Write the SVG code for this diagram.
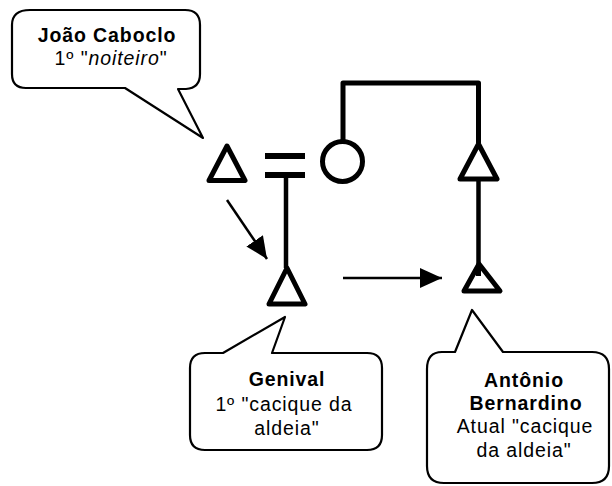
<svg xmlns="http://www.w3.org/2000/svg" width="612" height="486" viewBox="0 0 612 486">
<defs>
<style>
.sym{fill:none;stroke:#000;stroke-width:5;stroke-linejoin:round;stroke-linecap:butt}
.line{fill:none;stroke:#000;stroke-width:4.5}
.arr{fill:none;stroke:#000;stroke-width:2.5}
.callout{fill:#fff;stroke:#000;stroke-width:2.2;stroke-linejoin:round}
text{font-family:"Liberation Sans",Arial,sans-serif;font-size:19.5px;letter-spacing:0.9px;fill:#000;text-anchor:middle}
.b{font-weight:bold}
</style>
<marker id="ah" markerUnits="userSpaceOnUse" markerWidth="24" markerHeight="22" refX="22" refY="10" orient="auto">
<path d="M0,0 L22,10 L0,20 Z" fill="#000"/>
</marker>
</defs>
<rect width="612" height="486" fill="#fff"/>
<g id="connectors">
<polyline class="sym" points="343,141 343,83 478.5,83 478.5,143"/>
<line class="line" x1="286" y1="177" x2="286" y2="268"/>
<line class="line" x1="478.5" y1="178" x2="478.5" y2="274"/>
<line class="arr" x1="227" y1="200" x2="267" y2="259" marker-end="url(#ah)"/>
<line class="arr" x1="343" y1="278" x2="442" y2="278" marker-end="url(#ah)"/>
</g>
<g id="joao">
<polygon class="sym" points="227,146 245,180.5 209,180.5"/>
</g>
<g id="marriage">
<rect x="265" y="153" width="40" height="6"/>
<rect x="265" y="172" width="40" height="6"/>
</g>
<g id="wife">
<circle class="sym" cx="342.5" cy="161.5" r="20"/>
</g>
<g id="brother">
<polygon class="sym" points="478.5,144 497,179 460,179"/>
</g>
<g id="genival">
<polygon class="sym" points="287,268 305,304 269,304"/>
</g>
<g id="antonio">
<polygon class="sym" points="479,264 500,291 464,291"/>
<rect x="476" y="264" width="5" height="12"/>
</g>
<g id="callout-joao">
<path class="callout" d="M30,10 H185 Q200,10 200,25 V74 Q200,88 186,89 H178 L203,138 L125,88 H26 Q12,88 12,74 V25 Q12,10 30,10 Z"/>
<text class="b" x="107" y="42">João Caboclo</text>
<text x="111" y="65">1º "<tspan font-style="italic">noiteiro</tspan>"</text>
</g>
<g id="callout-genival">
<path class="callout" d="M205,353 H223 L285,317 L272,353 H367 Q382,353 382,368 V435 Q382,450 367,450 H205 Q190,450 190,435 V368 Q190,353 205,353 Z"/>
<text class="b" x="287" y="386">Genival</text>
<text x="284" y="411">1º "cacique da</text>
<text x="287" y="435">aldeia"</text>
</g>
<g id="callout-antonio">
<path class="callout" d="M442,352 H455 L472,310 L503,352 H592 Q609,352 609,369 V466 Q609,483 592,483 H444 Q427,483 427,466 V369 Q427,352 442,352 Z"/>
<text class="b" x="524" y="387">Antônio</text>
<text class="b" x="526" y="410">Bernardino</text>
<text x="525" y="433">Atual "cacique</text>
<text x="524" y="457">da aldeia"</text>
</g>
</svg>
